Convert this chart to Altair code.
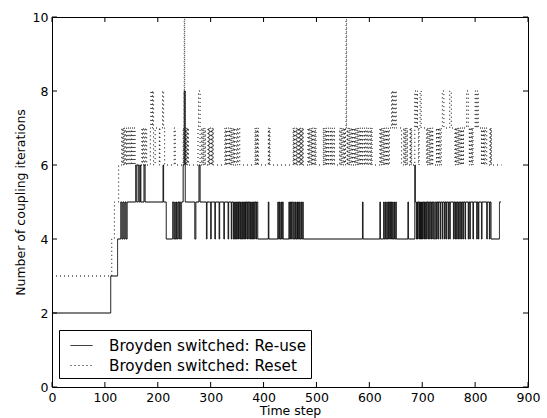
import altair as alt
import pandas as pd

# change points (time step, iterations); drawn as step-after lines
reuse = [
(0,2),(111,3),(124,4),(130,5),(132,4),(134,5),(136,4),(138,5),(140,4),(142,5),
(158,6),(160,5),(163,6),(165,5),(167,6),(168,5),(174,6),(176,5),
(210,6),(211,5),(216,4),(228,5),(230,4),(232,5),(233,4),(235,5),(236,4),(238,5),(240,4),(241,5),(243,4),(245,5),
(248,6),(250,8),(252,5),
(270,4),(272,5),(278,6),(280,5),
(292,4),(293,5),(300,4),(301,5),(308,4),(309,5),(316,4),(317,5),(325,4),(326,5),(333,4),(334,5),(339,4),(340,5),
(343,4),(344,5),(345,4),(347,5),(348,4),(349,5),(351,4),(352,5),(353,4),(354,5),(356,4),(357,5),(358,4),(360,5),
(361,4),(362,5),(364,4),(365,5),(366,4),(367,5),(369,4),(370,5),(372,4),(373,5),(375,4),(376,5),(377,4),(379,5),
(380,4),(381,5),(383,4),(384,5),(386,4),(387,5),(389,4),
(409,5),(410,4),(427,5),(428,4),(430,5),(431,4),(433,5),(434,4),(436,5),(437,4),
(448,5),(449,4),(451,5),(452,4),(453,5),(455,4),(457,5),(458,4),(460,5),(461,4),(463,5),(464,4),(465,5),(466,4),
(468,5),(469,4),(471,5),(472,4),(474,5),(475,4),
(587,5),(588,4),
(620,5),(621,4),(627,5),(628,4),(630,5),(631,4),(633,5),(634,4),(636,5),(637,4),(638,5),(640,4),(641,5),(642,4),
(644,5),(645,4),(647,5),(648,4),(650,5),(651,4),
(673,5),(674,4),
(686,6),(687,5),(689,4),(690,5),(691,4),(692,5),(694,4),(695,5),(696,4),(697,5),(698,4),(699,5),(700,4),(701,5),
(703,4),(704,5),(705,4),(706,5),(708,4),(709,5),(711,4),(712,5),(714,4),(715,5),(717,4),(718,5),(720,4),(721,5),
(723,4),(725,5),(727,4),(728,5),(730,4),(731,5),(734,4),(735,5),(738,4),(739,5),(742,4),(743,5),(745,4),(746,5),
(749,4),(750,5),(752,4),(753,5),(759,4),(760,5),(762,4),(763,5),(765,4),(766,5),(768,4),(769,5),(771,4),(772,5),
(774,4),(775,5),(777,4),(778,5),(781,4),(782,5),(787,4),(788,5),(790,4),(791,5),(796,4),(797,5),(803,4),(804,5),
(806,4),(807,5),(812,4),(813,5),(822,4),(823,5),
(827,4),(828,5),(830,4),(846,5),(849,5),
]

reset = [
(0,3),(113,4),(118,5),(126,6),(132,7),(133,6),(135,7),(136,6),(137,7),(139,6),(141,7),(142,6),(144,7),(146,6),
(148,7),(150,6),(151,7),(153,6),(155,7),(157,6),
(170,7),(171,6),(173,7),(175,6),(177,7),(179,6),
(186,7),(187,8),(189,7),(190,8),(192,6),
(195,7),(203,6),(204,7),(209,8),(211,7),(213,6),
(231,7),(233,6),
(248,7),(249,6),(250,10),(251,7),(252,6),(253,7),(254,6),(255,7),(256,6),(257,7),(258,6),
(276,7),(277,8),(280,6),
(283,7),(284,6),(286,7),(287,6),(289,7),(290,6),
(295,7),(296,6),(297,7),(298,6),(299,7),(301,6),(302,7),(303,6),(304,7),(305,6),
(327,7),(328,6),(330,7),(331,6),(333,7),(335,6),(336,7),(337,6),(339,7),(340,6),(342,7),(343,6),(345,7),(346,6),
(349,7),(351,6),(352,7),(355,6),
(384,7),(385,6),(387,7),(388,6),(389,7),(390,6),
(409,7),(410,6),(411,7),(412,6),
(456,7),(457,6),(458,7),(459,6),(461,7),(462,6),(463,7),(464,6),(466,7),(467,6),(468,7),(469,6),(470,7),(471,6),
(472,7),(473,6),(474,7),(475,6),
(484,7),(485,6),(487,7),(488,6),(490,7),(491,6),(492,7),(493,6),(495,7),(496,6),(498,7),(499,6),
(513,7),(514,6),(516,7),(517,6),(519,7),(520,6),(522,7),(523,6),(526,7),(527,6),(529,7),(530,6),(533,7),(534,6),
(544,7),(545,6),(547,7),(548,6),(550,7),(551,6),(553,7),(554,6),(555,7),(556,10),(557,7),(558,6),(559,7),(560,6),
(562,7),(563,6),(565,7),(566,6),(568,7),(569,6),(571,7),(572,6),(574,7),(575,6),(577,7),(578,6),(580,7),(581,6),
(583,7),(584,6),(586,7),(587,6),
(590,7),(591,6),(593,7),(595,6),(597,7),(598,6),(601,7),(602,6),(604,7),(605,6),
(620,7),(621,6),(623,7),(624,6),(626,7),(627,6),(629,7),(630,6),(632,7),(633,6),(635,7),(636,6),(638,7),
(642,8),(644,7),(645,8),(647,7),(649,8),(651,7),(661,6),
(665,7),(666,6),(668,7),(669,6),(671,7),(672,6),(677,7),(678,6),(679,7),(680,6),
(686,8),(688,7),(690,8),(691,7),(693,6),(694,7),(696,8),(698,7),
(708,6),(710,7),(711,6),(713,7),(714,6),(716,7),(717,6),(719,7),(720,6),
(727,7),(728,6),(730,7),(731,6),(733,7),(734,6),(736,7),(738,8),(741,7),
(752,8),(755,7),(762,6),(763,7),(765,6),(766,7),(768,6),(769,7),(771,6),(772,7),(774,6),(775,7),(777,6),(778,7),
(784,8),(787,7),(789,6),(790,7),(792,6),(793,7),(795,6),(796,7),(800,8),(802,7),(804,8),(806,7),
(812,6),(813,7),(815,6),(816,7),(818,6),(819,7),(822,6),(828,7),(829,6),(830,7),(831,6),(850,6),
]

series_names = ["Broyden switched: Re-use", "Broyden switched: Reset"]
x_ticks = [0, 100, 200, 300, 400, 500, 600, 700, 800, 900]
y_ticks = [0, 2, 4, 6, 8, 10]

rows = [{"t": t, "v": v, "s": series_names[0], "o": i} for i, (t, v) in enumerate(reuse)]
rows += [{"t": t, "v": v, "s": series_names[1], "o": i} for i, (t, v) in enumerate(reset)]
df = pd.DataFrame(rows)

W, H = 476, 370
FONT = "DejaVu Sans"
FS = 12.5
xs = alt.Scale(domain=[0, 900], nice=False, zero=False)
ys = alt.Scale(domain=[0, 10], nice=False, zero=False)
x_axis = alt.Axis(values=x_ticks, ticks=False, domain=False, grid=False, labelFlush=False,
                  labelPadding=4, labelFontSize=FS, labelFont=FONT, labelColor="black",
                  title="Time step", titleFont=FONT, titleFontSize=FS,
                  titleFontWeight="normal", titleColor="black", titlePadding=1)
y_axis = alt.Axis(values=y_ticks, ticks=False, domain=False, grid=False, labelFlush=False,
                  labelPadding=4, labelFontSize=FS, labelFont=FONT, labelColor="black",
                  title="Number of coupling iterations", titleFont=FONT,
                  titleFontSize=FS, titleFontWeight="normal", titleColor="black",
                  titlePadding=5)

lines = alt.Chart(df).mark_line(interpolate="step-after", color="black", strokeWidth=1).encode(
    x=alt.X("t:Q", scale=xs, axis=x_axis),
    y=alt.Y("v:Q", scale=ys, axis=y_axis),
    strokeDash=alt.StrokeDash("s:N", scale=alt.Scale(domain=series_names, range=[[1, 0], [1, 3]]),
                              legend=alt.Legend(title=None, orient="none", legendX=7, legendY=313,
                                                symbolType="stroke", symbolSize=484, symbolStrokeWidth=1,
                                                symbolStrokeColor="black", symbolOffset=7,
                                                labelFontSize=15.2, labelFont=FONT,
                                                labelColor="black", labelOffset=16, padding=4, rowPadding=0,
                                                strokeColor="black", fillColor="white", cornerRadius=0,
                                                labelLimit=400)),
    order="o:Q",
)

xt = pd.DataFrame({"t": x_ticks})
yt = pd.DataFrame({"v": y_ticks})
TL = 5
bottom = alt.Chart(xt).mark_rule(color="black").encode(
    x=alt.X("t:Q", scale=xs, axis=x_axis), y=alt.value(H), y2=alt.value(H - TL))
top = alt.Chart(xt).mark_rule(color="black").encode(
    x=alt.X("t:Q", scale=xs, axis=x_axis), y=alt.value(0), y2=alt.value(TL))
left = alt.Chart(yt).mark_rule(color="black").encode(
    y=alt.Y("v:Q", scale=ys, axis=y_axis), x=alt.value(0), x2=alt.value(TL))
right = alt.Chart(yt).mark_rule(color="black").encode(
    y=alt.Y("v:Q", scale=ys, axis=y_axis), x=alt.value(W), x2=alt.value(W - TL))

chart = alt.layer(lines, bottom, top, left, right).properties(
    width=W, height=H,
    autosize=alt.AutoSizeParams(type="none"),
    padding={"left": 52, "top": 17, "right": 19, "bottom": 31},
    background="white",
).configure_view(stroke="black", strokeWidth=1)

chart.save("out.html", embed_options={"renderer": "svg", "actions": False})
